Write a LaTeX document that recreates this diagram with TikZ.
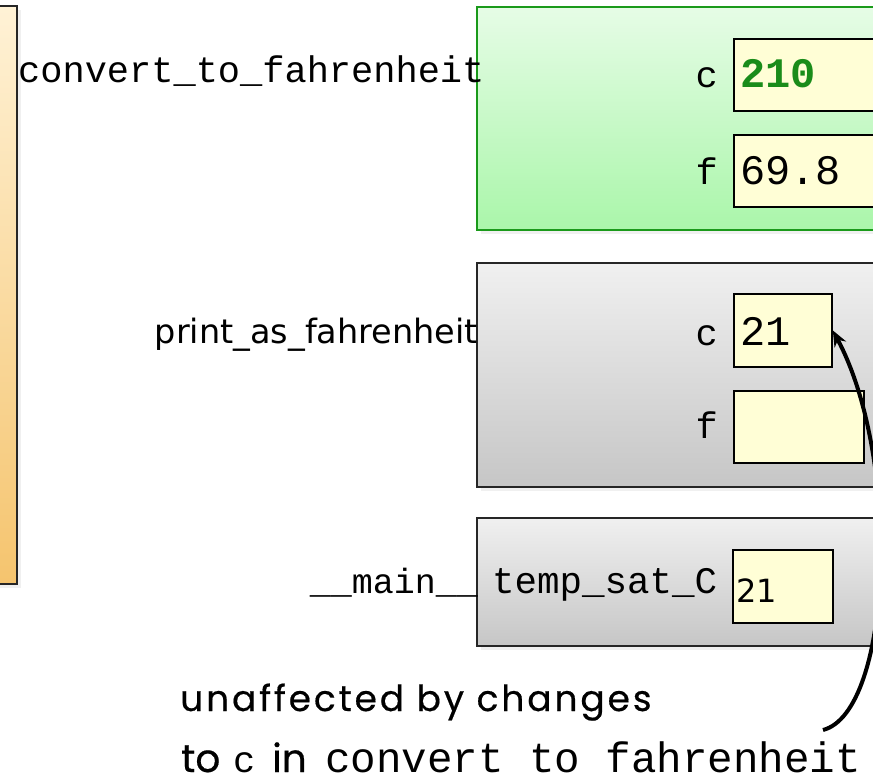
\documentclass[tikz,border=0pt]{standalone}
\usepackage{fontspec}
\setmainfont{DejaVu Sans}
\newfontfamily\monof{Liberation Mono}
\newfontfamily\handf[FakeBold=0.5]{Poppins}
\newfontfamily\handwide[LetterSpace=8,FakeBold=0.5]{Poppins}
\usetikzlibrary{shadows,arrows.meta}
\definecolor{gborder}{HTML}{1A9A1A}
\definecolor{gtop}{HTML}{E6FCE6}
\definecolor{gbot}{HTML}{AAF6AA}
\definecolor{ytop}{HTML}{F0F0F0}
\definecolor{ybot}{HTML}{C6C6C6}
\definecolor{otop}{HTML}{FFF2D6}
\definecolor{obot}{HTML}{F5C46E}
\definecolor{valfill}{HTML}{FFFED6}
\definecolor{valgreen}{HTML}{1A8C1A}
\begin{document}
\begin{tikzpicture}[x=1pt,y=-1pt,
  frame/.style={draw=black!85,line width=2pt,anchor=north west,inner sep=0pt,
    drop shadow={opacity=0.12,shadow xshift=4pt,shadow yshift=-4pt}},
  valbox/.style={draw=black,line width=1.8pt,fill=valfill,anchor=north west,inner sep=0pt},
  lab/.style={font=\monof\fontsize{37}{40}\selectfont,inner sep=0pt},
  val/.style={font=\monof\fontsize{42}{44}\selectfont,inner sep=0pt,anchor=base west},
  sanslab/.style={font=\fontsize{33.5}{36}\selectfont,inner sep=0pt},
  hand/.style={font=\handf\fontsize{39}{42}\selectfont,inner sep=0pt,anchor=base west,text depth=0pt},
  arr/.style={line width=4pt,-{Stealth[length=16pt,width=13pt]}}]
\useasboundingbox (0,0) rectangle (873,781);
% frames
\node[frame,top color=otop,bottom color=obot,minimum width=21pt,minimum height=578pt] (orange) at (-5,5) {};
\node[frame,draw=gborder,top color=gtop,bottom color=gbot,minimum width=404pt,minimum height=223pt] (green) at (476,6) {};
\node[frame,top color=ytop,bottom color=ybot,minimum width=404pt,minimum height=224pt] (pframe) at (476,262) {};
\node[frame,top color=ytop,bottom color=ybot,minimum width=404pt,minimum height=128pt] (mframe) at (476,517) {};
% frame names
\node[lab,anchor=base west] (gname) at (18,83) {convert\_to\_fahrenheit};
\node[sanslab,anchor=base east] (pname) at (478,343) {print\_as\_fahrenheit};
\node[lab,font=\monof\fontsize{35}{38}\selectfont,anchor=base east] (mname) at (478,593) {\_\_main\_\_};
% green frame vars
\node[valbox,minimum width=147pt,minimum height=72pt] (gc) at (733,38) {};
\node[valbox,minimum width=147pt,minimum height=72pt] (gf) at (733,134) {};
\node[lab,anchor=base east] (gcl) at (718,88) {c};
\node[lab,anchor=base east] (gfl) at (718,184) {f};
\node[val,text=valgreen] (gcv) at (740,88) {\textbf{210}};
\node[val] (gfv) at (740,185) {69.8};
% print frame vars
\node[valbox,minimum width=98pt,minimum height=73pt] (pc) at (733,293) {};
\node[valbox,minimum width=130pt,minimum height=72pt] (pf) at (733,390) {};
\node[lab,anchor=base east] (pcl) at (718,345) {c};
\node[lab,anchor=base east] (pfl) at (718,438) {f};
\node[val] (pcv) at (740,345) {21};
% main frame vars
\node[lab,font=\monof\fontsize{37.5}{40}\selectfont,anchor=base west] (mvar) at (492,593) {temp\_sat\_C};
\node[valbox,minimum width=100pt,minimum height=73pt] (mv) at (732,549) {};
\node[sanslab,font=\fontsize{32}{34}\selectfont,anchor=base west] (mvv) at (736,602) {21};
% comment
\node[hand,font=\handwide\fontsize{36}{40}\selectfont] (note1) at (180,711) {unaffected by changes};
\node[hand] (note2a) at (181,772) {to};
\node[lab,anchor=base west,text depth=0pt] (note2c) at (233,772) {c};
\node[hand] (note2b) at (272,772) {in};
\node[font=\monof\fontsize{42.5}{44}\selectfont,inner sep=0pt,anchor=base west,text depth=0pt] (note2d) at (325,772) {convert to fahrenheit};
\coordinate (astart) at (823,730);
\draw[arr] (astart) .. controls (892,712) and (902,460) .. (pc.east);
\end{tikzpicture}
\end{document}
